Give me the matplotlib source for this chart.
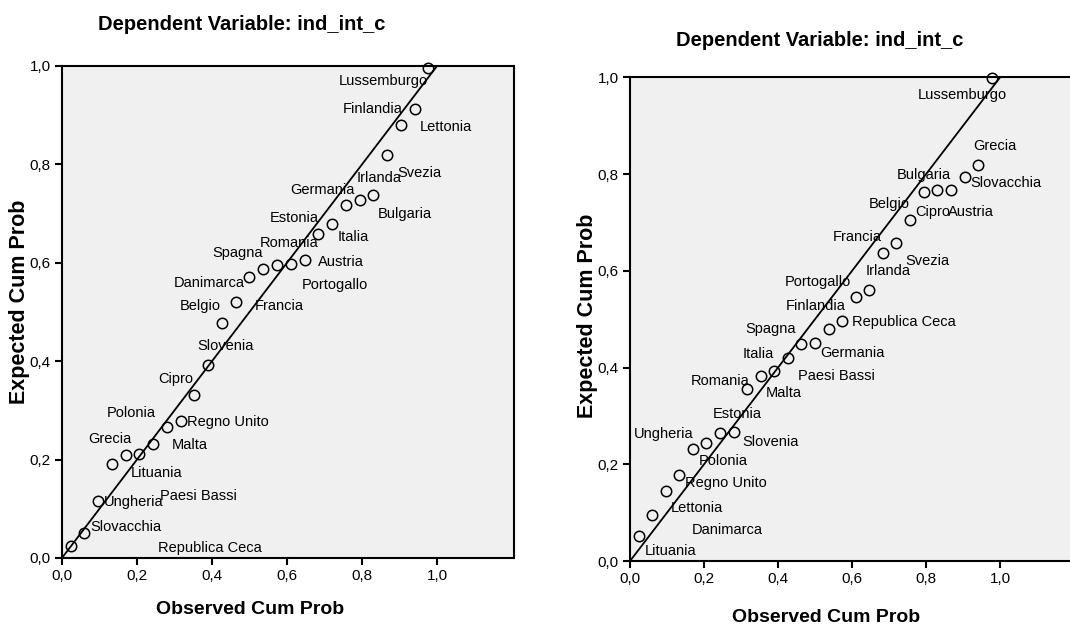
import matplotlib
matplotlib.use('Agg')
import matplotlib.pyplot as plt
from matplotlib.ticker import FuncFormatter

# observed cum prob (same ranks for both panels, n = 27)
obs = [0.023, 0.060, 0.096, 0.133, 0.170, 0.206, 0.243, 0.280, 0.317, 0.353,
       0.390, 0.427, 0.463, 0.500, 0.537, 0.573, 0.610, 0.647, 0.683, 0.720,
       0.757, 0.794, 0.830, 0.867, 0.904, 0.940, 0.977]

# left panel
exp_a = [0.024, 0.051, 0.116, 0.192, 0.209, 0.211, 0.231, 0.266, 0.279, 0.331,
         0.392, 0.478, 0.521, 0.572, 0.587, 0.596, 0.598, 0.606, 0.658, 0.679,
         0.717, 0.728, 0.738, 0.819, 0.880, 0.913, 0.995]
names_a = ['Republica Ceca', 'Slovacchia', 'Ungheria', 'Grecia', 'Polonia',
           'Lituania', 'Malta', 'Paesi Bassi', 'Regno Unito', 'Cipro',
           'Slovenia', 'Belgio', 'Francia', 'Danimarca', 'Spagna', 'Romania',
           'Portogallo', 'Austria', 'Estonia', 'Italia', 'Germania', 'Irlanda',
           'Bulgaria', 'Svezia', 'Lettonia', 'Finlandia', 'Lussemburgo']

# right panel
exp_b = [0.052, 0.095, 0.145, 0.178, 0.231, 0.243, 0.264, 0.267, 0.355, 0.382,
         0.393, 0.420, 0.449, 0.451, 0.479, 0.497, 0.545, 0.560, 0.637, 0.658,
         0.704, 0.763, 0.767, 0.767, 0.793, 0.819, 0.998]
names_b = ['Lituania', 'Danimarca', 'Lettonia', 'Regno Unito', 'Ungheria',
           'Polonia', 'Estonia', 'Slovenia', 'Romania', 'Italia', 'Malta',
           'Paesi Bassi', 'Spagna', 'Germania', 'Finlandia', 'Republica Ceca',
           'Portogallo', 'Irlanda', 'Svezia', 'Francia', 'Belgio', 'Cipro',
           'Bulgaria', 'Austria', 'Slovacchia', 'Grecia', 'Lussemburgo']

ticks = [0.0, 0.2, 0.4, 0.6, 0.8, 1.0]

# label offsets in pixels (dx, dy), left edge / vertical centre of text
off_a = [(87, -2), (6, 6), (6, -1), (-24, 25), (-19, 42), (-8, -19), (19, -1),
         (-7, -69), (6, -1), (-36, 16), (-11, 19), (-42, 17), (19, -4),
         (-76, -6), (-51, 16), (-17, 22), (11, -21), (13, -2), (-48, 16),
         (6, -13), (-56, 15), (-3, 22), (4, -19), (10, -18), (19, -2),
         (-72, 0), (-90, -13)]
off_b = [(6, -15), (40, -15), (5, -17), (6, -8), (-59, 15), (-8, -18),
         (-7, 19), (9, -10), (-57, 8), (-18, 22), (-9, -22), (10, -18),
         (-56, 15), (5, -10), (-43, 23), (10, -1), (-71, 15), (-4, 19),
         (23, -8), (-64, 6), (-41, 16), (-9, -20), (-40, 15), (-3, -22),
         (6, -6), (-5, 19), (-74, -17)]

plt.rcParams['font.family'] = ['Liberation Sans', 'DejaVu Sans']

W, H = 1070, 634
fig = plt.figure(figsize=(10.7, 6.34), dpi=100)
ax1 = fig.add_axes([0.0579, 0.1199, 0.4224, 0.776])
ax2 = fig.add_axes([0.5888, 0.1151, 0.4168, 0.763])

comma = FuncFormatter(lambda v, p: ('%.1f' % v).replace('.', ','))


def panel(ax, exp, names, offs):
    ax.set_facecolor('#f0f0f0')
    ax.plot([0, 1], [0, 1], color='black', lw=1.3, zorder=2)
    ax.plot(obs, exp, 'o', ms=7.5, mfc='none', mec='black', mew=1.1,
            zorder=3, clip_on=False)
    for x, y, n, (dx, dy) in zip(obs, exp, names, offs):
        ax.annotate(n, (x, y), xytext=(dx, dy), textcoords='offset pixels',
                    ha='left', va='center', fontsize=10.5)
    ax.set_xlim(0, 1.205)
    ax.set_ylim(0, 1.0)
    ax.set_xticks(ticks)
    ax.set_yticks(ticks)
    ax.xaxis.set_major_formatter(comma)
    ax.yaxis.set_major_formatter(comma)
    ax.tick_params(axis='both', direction='out', length=5, width=1.5,
                   labelsize=11, pad=3)
    for s in ax.spines.values():
        s.set_linewidth(1.5)


panel(ax1, exp_a, names_a, off_a)
panel(ax2, exp_b, names_b, off_b)

# titles and axis labels placed in pixel terms
for tx, ty, xx, xy, yx, yy in [(242, 24, 250, 610, 20, 302),
                               (820, 40, 826, 617, 587, 316)]:
    fig.text(tx / W, 1 - ty / H, 'Dependent Variable: ind_int_c',
             ha='center', va='center', fontsize=14.5, fontweight='bold')
    fig.text(xx / W, 1 - xy / H, 'Observed Cum Prob',
             ha='center', va='center', fontsize=14, fontweight='bold')
    fig.text(yx / W, 1 - yy / H, 'Expected Cum Prob', rotation=90,
             ha='center', va='center', fontsize=15.5, fontweight='bold')

fig.savefig('out.png', dpi=100)
